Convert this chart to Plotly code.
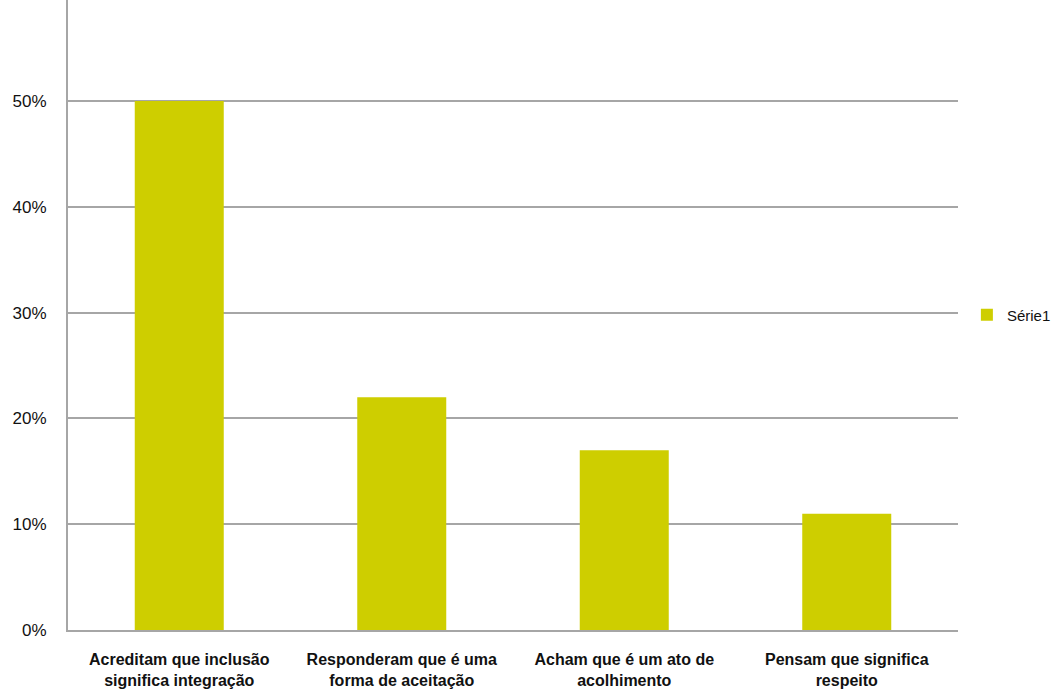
import plotly.graph_objects as go

categories = ["Acreditam que inclusão<br>significa integração",
              "Responderam que é uma<br>forma de aceitação",
              "Acham que é um ato de<br>acolhimento",
              "Pensam que significa<br>respeito"]
values = [0.50, 0.22, 0.17, 0.11]
series_name = "Série1"
tick_vals = [0, 0.1, 0.2, 0.3, 0.4, 0.5, 0.6]
tick_text = ["0%", "10%", "20%", "30%", "40%", "50%", "60%"]

fig = go.Figure()
fig.add_trace(go.Bar(x=categories, y=values, name=series_name,
                     marker=dict(color="#CECE00", line=dict(width=0)),
                     width=0.4))
fig.update_layout(
    width=1058, height=691,
    margin=dict(l=68, r=100, t=0, b=61, autoexpand=False),
    paper_bgcolor="white", plot_bgcolor="white",
    font=dict(family="Liberation Sans, Arial, sans-serif", size=16, color="#111111"),
    showlegend=True,
    legend=dict(xref="container", x=0.998, y=0.5, xanchor="right", yanchor="middle",
                font=dict(size=15), itemwidth=30, tracegroupgap=0),
    bargap=0.6,
)
fig.update_yaxes(range=[0, 0.5955], tickvals=tick_vals, ticktext=tick_text,
                 showgrid=True, gridcolor="#A6A6A6", gridwidth=1.5,
                 showline=True, linecolor="#A6A6A6", linewidth=2,
                 ticks="", ticklabelstandoff=16, zeroline=False, automargin=False,
                 tickfont=dict(size=17))
fig.update_xaxes(showline=True, linecolor="#A6A6A6", linewidth=2, ticks="",
                 tickfont=dict(size=16, weight="bold"), ticklabelstandoff=14,
                 automargin=False)
fig.write_html("out.html")
